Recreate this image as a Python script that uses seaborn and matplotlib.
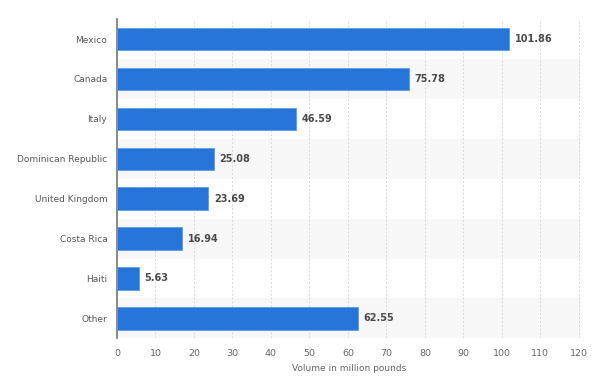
import matplotlib
matplotlib.use("Agg")
import matplotlib.pyplot as plt
import seaborn as sns
import pandas as pd

# ── Data ──────────────────────────────────────────────────────────────────────
countries = ["Mexico", "Canada", "Italy", "Dominican Republic",
             "United Kingdom", "Costa Rica", "Haiti", "Other"]
volumes = [101.86, 75.78, 46.59, 25.08, 23.69, 16.94, 5.63, 62.55]
x_ticks = [0, 10, 20, 30, 40, 50, 60, 70, 80, 90, 100, 110, 120]

BAR_COLOR = "#2775d9"
TEXT_GREY = "#666666"

sns.set_style("white")
plt.rcParams["font.family"] = ["DejaVu Sans"]

df = pd.DataFrame({"country": countries, "volume": volumes})

fig = plt.figure(figsize=(6.0, 3.81), dpi=100)
ax = fig.add_axes([0.195, 0.112, 0.773, 0.838])

# alternating row bands
for i in range(len(countries)):
    if i % 2 == 1:
        ax.axhspan(i - 0.5, i + 0.5, color="#f7f7f7", zorder=0, lw=0)

sns.barplot(data=df, x="volume", y="country", orient="h", color=BAR_COLOR,
            width=0.56, saturation=1, ax=ax, zorder=3,
            edgecolor="#5b9be6", linewidth=0.6)

for i, v in enumerate(volumes):
    ax.text(v + 1.5, i, f"{v:.2f}", va="center", ha="left",
            fontsize=7, fontweight="semibold", color="#4a4a4a", zorder=4)

ax.set_xlim(0, 120.5)
ax.set_ylim(len(countries) - 0.5, -0.5)
ax.set_xticks(x_ticks)
ax.set_xticklabels([str(t) for t in x_ticks])
ax.xaxis.grid(True, color="#d8d8d8", ls=(0, (2, 2)), lw=0.7, zorder=1)
ax.yaxis.grid(False)
ax.set_axisbelow(True)

ax.tick_params(axis="x", length=0, labelsize=6.8, colors=TEXT_GREY, pad=8)
ax.tick_params(axis="y", length=0, labelsize=6.5, colors="#555555", pad=7)
ax.set_xlabel("Volume in million pounds", fontsize=6.5, color=TEXT_GREY, labelpad=4)
ax.set_ylabel("")

for s in ["top", "right", "bottom"]:
    ax.spines[s].set_visible(False)
ax.spines["left"].set_color("#777777")
ax.spines["left"].set_linewidth(1.2)

fig.savefig("out.png", dpi=100)
